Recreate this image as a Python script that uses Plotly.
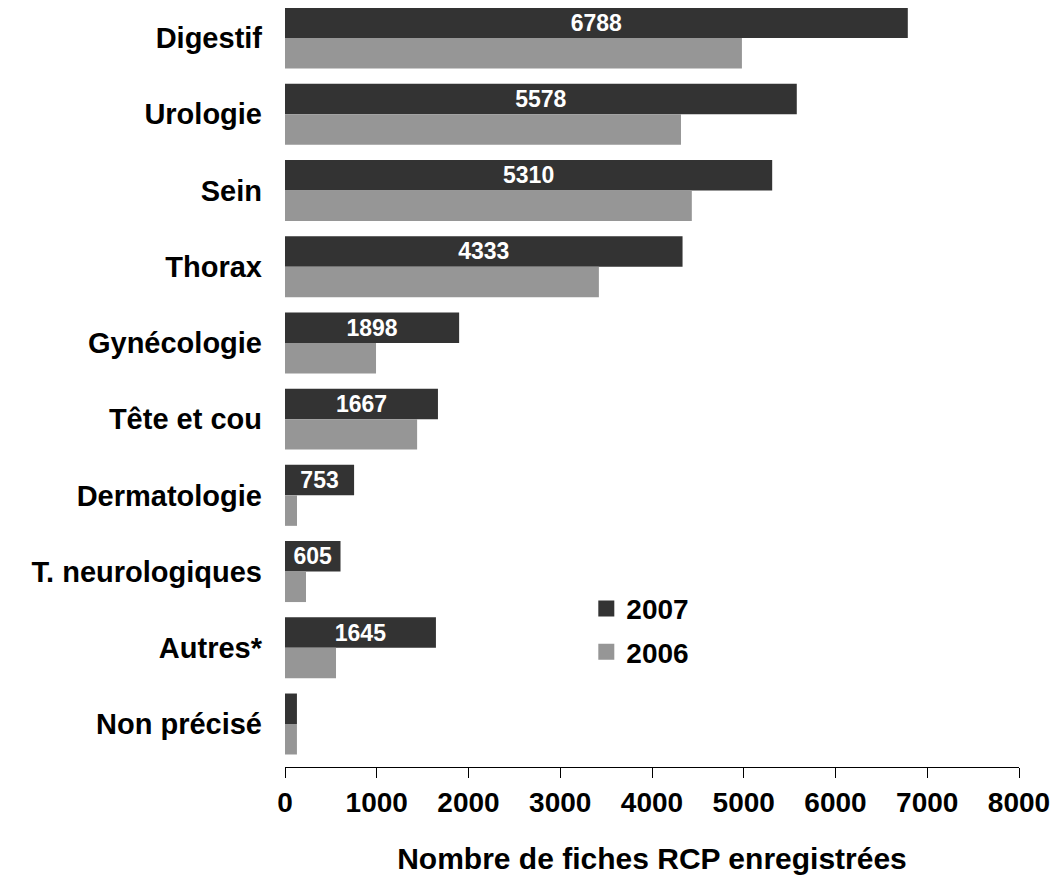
import plotly.graph_objects as go

categories = ["Digestif", "Urologie", "Sein", "Thorax", "Gynécologie", "Tête et cou",
              "Dermatologie", "T. neurologiques", "Autres*", "Non précisé"]
values_2007 = [6788, 5578, 5310, 4333, 1898, 1667, 753, 605, 1645, 130]
values_2006 = [4980, 4316, 4434, 3421, 992, 1440, 131, 229, 556, 130]
labels_2007 = ["6788", "5578", "5310", "4333", "1898", "1667", "753", "605", "1645", ""]
tick_vals = [0, 1000, 2000, 3000, 4000, 5000, 6000, 7000, 8000]

DARK = "#333333"
GRAY = "#969696"
FONT = "Arial, Liberation Sans, sans-serif"

fig = go.Figure()
fig.add_trace(go.Bar(
    y=categories, x=values_2007, orientation="h", name="2007",
    marker=dict(color=DARK, line=dict(width=0)),
    text=labels_2007, textposition="inside", insidetextanchor="middle",
    textangle=0, constraintext="none",
    textfont=dict(color="white", size=23, family=FONT, weight="bold"),
    showlegend=False, hoverinfo="x+y",
))
fig.add_trace(go.Bar(
    y=categories, x=values_2006, orientation="h", name="2006",
    marker=dict(color=GRAY, line=dict(width=0)),
    showlegend=False, hoverinfo="x+y",
))
# legend entries
fig.add_trace(go.Scatter(x=[None], y=[None], mode="markers", name="2007",
                         marker=dict(symbol="square", size=20, color=DARK),
                         legendgroup="a"))
fig.add_trace(go.Scatter(x=[None], y=[None], mode="markers", name="2006",
                         marker=dict(symbol="square", size=20, color=GRAY),
                         legendgroup="b"))

fig.update_layout(
    width=1063, height=882,
    margin=dict(l=277, r=52, t=0, b=123),
    barmode="group", bargap=0.2, bargroupgap=0,
    paper_bgcolor="white", plot_bgcolor="white",
    font=dict(family=FONT, color="black"),
    legend=dict(x=0.4105, y=0.2415, xanchor="left", yanchor="top",
                font=dict(size=28, family=FONT, weight="bold"),
                traceorder="grouped", tracegroupgap=4,
                itemsizing="trace", bgcolor="rgba(0,0,0,0)"),
    xaxis=dict(range=[0, 8000], tickvals=tick_vals,
               showgrid=False, zeroline=False,
               showline=True, linecolor="black", linewidth=1,
               ticks="outside", ticklen=10, tickcolor="black",
               tickfont=dict(size=28, family=FONT, weight="bold"),
               title=dict(text="Nombre de fiches RCP enregistrées",
                          font=dict(size=30, family=FONT, weight="bold"),
                          standoff=31),
               fixedrange=True),
    yaxis=dict(categoryorder="array", categoryarray=categories,
               range=[9.564, -0.394], showgrid=False, zeroline=False,
               showline=False, ticks="", ticklabelstandoff=22,
               tickfont=dict(size=29, family=FONT, weight="bold"),
               fixedrange=True),
)
fig.write_html("out.html")
